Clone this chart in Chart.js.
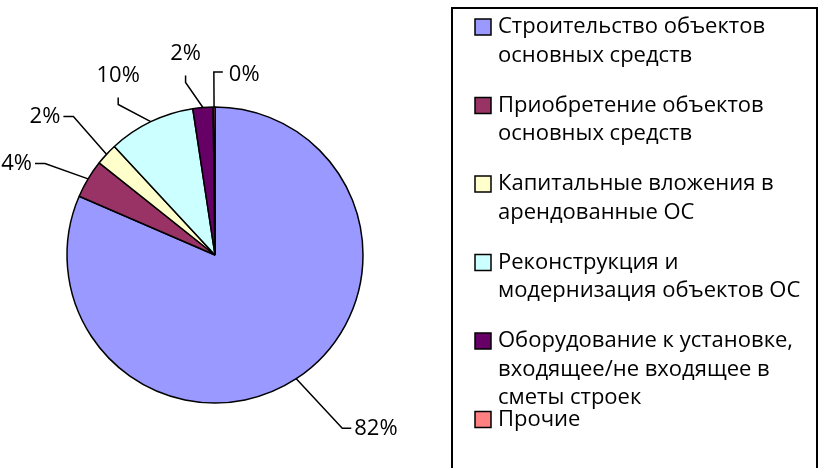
<!DOCTYPE html>
<html>
<head>
<meta charset="utf-8">
<script src="https://cdn.jsdelivr.net/npm/chart.js@4"></script>
<style>
  html, body { margin: 0; padding: 0; background: #fff; }
  #wrap { width: 833px; height: 472px; }
</style>
</head>
<body>
<div id="wrap"><canvas id="chart" width="833" height="472"></canvas></div>
<script>
// categories (legend text, broken into lines as in the original)
const categories = [
    ['Строительство объектов', 'основных средств'],
    ['Приобретение объектов', 'основных средств'],
    ['Капитальные вложения в', 'арендованные ОС'],
    ['Реконструкция и', 'модернизация объектов ОС'],
    ['Оборудование к установке,', 'входящее/не входящее в', 'сметы строек'],
    ['Прочие']
];
// shares, %
const shares = [81.5, 4.2, 2.4, 9.5, 2.2, 0.2];
const sliceColors = ['#9999FF', '#993366', '#FFFFCC', '#CCFFFF', '#660066', '#FF8080'];

// where each data label sits relative to its slice
const labelLayout = [
    { shift: -3, dist: 67, kind: 'right' },
    { shift: -2.7, dist: 45, kind: 'left' },
    { shift: 1.5, dist: 50, kind: 'left' },
    { shift: -7, dist: 31, kind: 'up' },
    { shift: -5, dist: 27, kind: 'up' },
    { shift: 0, dist: 35, kind: 'upRight' }
];

const FONT = '22px "Open Sans"';

const pieLabels = {
    id: 'pieLabels',
    afterDatasetsDraw(chart) {
        const ctx = chart.ctx;
        const meta = chart.getDatasetMeta(0);
        ctx.save();
        ctx.strokeStyle = '#000';
        ctx.lineWidth = 1.5;
        ctx.fillStyle = '#000';
        ctx.font = FONT;
        ctx.textBaseline = 'middle';
        meta.data.forEach((arc, i) => {
            const p = arc.getProps(['x', 'y', 'startAngle', 'endAngle', 'outerRadius'], true);
            const mid = (p.startAngle + p.endAngle) / 2;
            const lay = labelLayout[i];
            const sx = p.x + Math.cos(mid) * p.outerRadius;
            const sy = p.y + Math.sin(mid) * p.outerRadius;
            const a = mid + lay.shift * Math.PI / 180;
            const ex = p.x + Math.cos(a) * (p.outerRadius + lay.dist);
            const ey = p.y + Math.sin(a) * (p.outerRadius + lay.dist);
            const text = Math.round(shares[i]) + '%';
            ctx.beginPath();
            ctx.moveTo(sx, sy);
            ctx.lineTo(ex, ey);
            let tx, ty;
            if (lay.kind === 'right') {
                ctx.lineTo(ex + 9, ey);
                ctx.textAlign = 'left'; tx = ex + 12; ty = ey;
            } else if (lay.kind === 'left') {
                ctx.lineTo(ex - 10, ey);
                ctx.textAlign = 'right'; tx = ex - 13; ty = ey;
            } else if (lay.kind === 'up') {
                ctx.lineTo(ex, ey - 7);
                ctx.textAlign = 'center'; tx = ex; ty = ey - 29;
            } else {
                ctx.lineTo(ex + 9, ey);
                ctx.textAlign = 'left'; tx = ex + 15; ty = ey + 3;
            }
            ctx.stroke();
            ctx.fillText(text, tx, ty);
        });
        ctx.restore();
    }
};

const boxLegend = {
    id: 'boxLegend',
    afterDraw(chart) {
        const ctx = chart.ctx;
        ctx.save();
        // frame (bottom edge runs off the picture)
        ctx.strokeStyle = '#000';
        ctx.lineWidth = 2;
        ctx.beginPath();
        ctx.moveTo(452, 468);
        ctx.lineTo(452, 8);
        ctx.lineTo(817, 8);
        ctx.lineTo(817, 468);
        ctx.stroke();

        ctx.font = FONT;
        ctx.textBaseline = 'middle';
        ctx.textAlign = 'left';
        const lineH = 28.5;
        categories.forEach((lines, i) => {
            const y0 = 27 + i * 78.5;
            ctx.fillStyle = sliceColors[i];
            ctx.fillRect(475, y0 - 8, 16, 16);
            ctx.lineWidth = 1.5;
            ctx.strokeRect(475, y0 - 8, 16, 16);
            ctx.fillStyle = '#000';
            lines.forEach((ln, j) => ctx.fillText(ln, 498, y0 + j * lineH));
        });
        ctx.restore();
    }
};

new Chart(document.getElementById('chart'), {
    type: 'pie',
    data: {
        labels: categories,
        datasets: [{
            data: shares,
            backgroundColor: sliceColors,
            borderColor: '#000',
            borderWidth: 1.5
        }]
    },
    options: {
        responsive: false,
        animation: false,
        events: [],
        radius: 148,
        layout: { padding: { left: 67, top: 107, right: 470, bottom: 69 } },
        plugins: {
            legend: { display: false },
            tooltip: { enabled: false }
        }
    },
    plugins: [pieLabels, boxLegend]
});
</script>
</body>
</html>
